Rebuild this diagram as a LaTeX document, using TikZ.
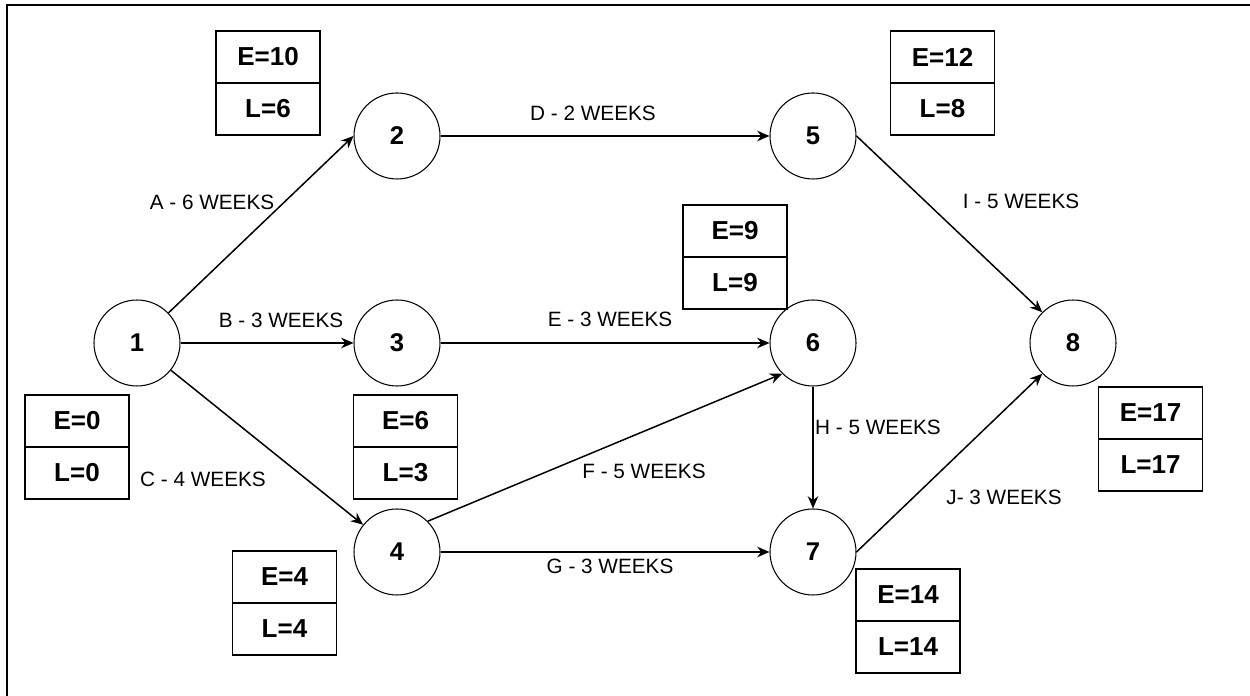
\documentclass[tikz,border=0pt]{standalone}
\usepackage{fontspec}
\setmainfont{Liberation Sans}
\usetikzlibrary{arrows.meta,positioning}

\begin{document}
\begin{tikzpicture}[
        event/.style={draw,circle,line width=0.6pt,minimum size=1.72cm,inner sep=0pt,
                      font=\fontsize{14.6}{17}\selectfont\bfseries},
        cell/.style={draw,line width=0.85pt,minimum width=2.08cm,minimum height=1.04cm,
                     inner sep=0pt,outer sep=0pt,font=\fontsize{14.8}{17}\selectfont\bfseries},
        act/.style={-{Stealth[length=7pt,width=6pt]},line width=0.85pt},
        lbl/.style={font=\fontsize{11.8}{14}\selectfont}
    ]
        \useasboundingbox (0,0) rectangle (25,13.92);

        % Frame
        \draw[line width=0.85pt] (0.14,0) -- (0.14,13.82) -- (25,13.82);

        % Events
        \node[event] (n1) at ( 2.74, 7.06) {1};
        \node[event] (n2) at ( 7.94,11.20) {2};
        \node[event] (n3) at ( 7.94, 7.06) {3};
        \node[event] (n4) at ( 7.94, 2.88) {4};
        \node[event] (n5) at (16.26,11.20) {5};
        \node[event] (n6) at (16.26, 7.06) {6};
        \node[event] (n7) at (16.26, 2.88) {7};
        \node[event] (n8) at (21.46, 7.06) {8};

        % Earliest / latest times
        \node[cell] (e1) at ( 1.54, 5.50) {E=0};
        \node[cell,below=0pt of e1] (l1) {L=0};
        \node[cell] (e2) at ( 5.36,12.78) {E=10};
        \node[cell,below=0pt of e2] (l2) {L=6};
        \node[cell] (e3) at ( 8.11, 5.50) {E=6};
        \node[cell,below=0pt of e3] (l3) {L=3};
        \node[cell] (e4) at ( 5.69, 2.38) {E=4};
        \node[cell,below=0pt of e4] (l4) {L=4};
        \node[cell] (e5) at (18.85,12.78) {E=12};
        \node[cell,below=0pt of e5] (l5) {L=8};
        \node[cell] (e6) at (14.70, 9.30) {E=9};
        \node[cell,below=0pt of e6] (l6) {L=9};
        \node[cell] (e7) at (18.16, 2.02) {E=14};
        \node[cell,below=0pt of e7] (l7) {L=14};
        \node[cell] (e8) at (23.01, 5.66) {E=17};
        \node[cell,below=0pt of e8] (l8) {L=17};

        % Activities
        \draw[act] (n1) -- (n2.west);
        \draw[act] (n1) -- (n3);
        \draw[act] (n1) -- (n4);
        \draw[act] (n2) -- (n5);
        \draw[act] (n3) -- (n6);
        \draw[act] (n4.north east) -- (n6.south west);
        \draw[act] (n4) -- (n7);
        \draw[act] (n6) -- (n7);
        \draw[act] (n5.east) -- (n8.north west);
        \draw[act] (n7.east) -- (n8.south west);

        % Labels
        \node[lbl] (la) at ( 4.24, 9.88) {A - 6 WEEKS};
        \node[lbl] (lb) at ( 5.62, 7.52) {B - 3 WEEKS};
        \node[lbl] (lc) at ( 4.06, 4.34) {C - 4 WEEKS};
        \node[lbl] (ld) at (11.86,11.66) {D - 2 WEEKS};
        \node[lbl] (le) at (12.20, 7.54) {E - 3 WEEKS};
        \node[lbl] (lf) at (12.88, 4.50) {F - 5 WEEKS};
        \node[lbl] (lg) at (12.20, 2.60) {G - 3 WEEKS};
        \node[lbl] (lh) at (17.56, 5.38) {H - 5 WEEKS};
        \node[lbl] (li) at (20.42, 9.90) {I - 5 WEEKS};
        \node[lbl] (lj) at (20.08, 3.98) {J- 3 WEEKS};

    \end{tikzpicture}
\end{document}
